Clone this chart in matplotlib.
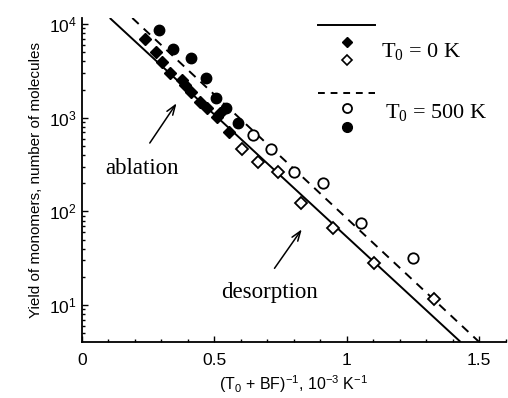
import math
import matplotlib.pyplot as plt
from matplotlib.ticker import FixedLocator, FuncFormatter, LogLocator, MultipleLocator

# data (x in 10^-3 K^-1, y = number of molecules)
abl_0K_x = [0.238, 0.279, 0.304, 0.334, 0.376, 0.388, 0.413, 0.444, 0.473, 0.510, 0.520, 0.557]
abl_0K_y = [6870, 4990, 3960, 3020, 2520, 2230, 1890, 1480, 1260, 1025, 1120, 710]

des_0K_x = [0.605, 0.664, 0.739, 0.827, 0.947, 1.104, 1.330]
des_0K_y = [460, 339, 261, 122, 67, 28, 11.5]

abl_500K_x = [0.291, 0.344, 0.411, 0.467, 0.505, 0.545, 0.589]
abl_500K_y = [8630, 5410, 4310, 2630, 1630, 1260, 885]

des_500K_x = [0.645, 0.714, 0.802, 0.909, 1.053, 1.250]
des_500K_y = [653, 460, 266, 202, 76, 32]

# fitted straight lines (end points)
fit_0K_x = [0.105, 1.43]
fit_0K_y = [11600, 4.04]
fit_500K_x = [0.19, 1.50]
fit_500K_y = [11600, 4.04]

xticks = [0, 0.5, 1, 1.5]
xticklabels = ["0", "0.5", "1", "1.5"]

sans = "Liberation Sans"
serif = "Liberation Serif"

fig = plt.figure(figsize=(5.08, 3.98), dpi=100)
ax = fig.add_axes([0.1614, 0.1407, 0.834, 0.8141])

ax.plot(fit_0K_x, fit_0K_y, color="black", lw=1.4, solid_capstyle="butt")
ax.plot(fit_500K_x, fit_500K_y, color="black", lw=1.4, ls=(0, (4.5, 3.5)))

ax.plot(abl_0K_x, abl_0K_y, ls="none", marker="D", ms=6.5, color="black")
ax.plot(des_0K_x, des_0K_y, ls="none", marker="D", ms=6.5, mfc="white", mec="black", mew=1.3)
ax.plot(abl_500K_x, abl_500K_y, ls="none", marker="o", ms=7.5, color="black")
ax.plot(des_500K_x, des_500K_y, ls="none", marker="o", ms=7.5, mfc="white", mec="black", mew=1.3)

ax.set_yscale("log")
ax.set_xlim(0, 1.6)
ax.set_ylim(4.04, 11600)

ax.xaxis.set_major_locator(FixedLocator(xticks))
ax.xaxis.set_major_formatter(FuncFormatter(lambda v, p: xticklabels[xticks.index(v)] if v in xticks else ""))
ax.xaxis.set_minor_locator(MultipleLocator(0.1))
ax.yaxis.set_major_locator(LogLocator(base=10, numticks=10))
ax.yaxis.set_minor_locator(LogLocator(base=10, subs=range(2, 10), numticks=20))
ax.yaxis.set_major_formatter(FuncFormatter(lambda v, p: r"$\mathregular{10^{%d}}$" % round(math.log10(v))))

ax.tick_params(which="both", direction="in", labelsize=12.5, width=1)
ax.tick_params(which="major", length=4)
ax.tick_params(which="minor", length=2)
ax.tick_params(axis="x", pad=8)
ax.tick_params(axis="y", pad=4)
for lab in ax.get_xticklabels() + ax.get_yticklabels():
    lab.set_family(sans)

for s in ["top", "right"]:
    ax.spines[s].set_visible(False)
for s in ["left", "bottom"]:
    ax.spines[s].set_linewidth(1.3)

ax.set_xlabel(r"(T$\mathregular{_0}$ + BF)$\mathregular{^{-1}}$, 10$\mathregular{^{-3}}$ K$\mathregular{^{-1}}$",
              family=sans, fontsize=11.5, labelpad=4)
ax.set_ylabel("Yield of monomers, number of molecules", family=sans, fontsize=11, labelpad=4)

# annotations
arrow = dict(arrowstyle="->,head_length=0.7,head_width=0.25", color="black", lw=1.1, shrinkA=0, shrinkB=0)
ax.annotate("", xy=(0.357, 1426), xytext=(0.256, 537), arrowprops=arrow)
ax.annotate("", xy=(0.830, 64.4), xytext=(0.727, 24.7), arrowprops=arrow)
ax.text(0.226, 290, "ablation", family=serif, fontsize=16.5, ha="center", va="center")
ax.text(0.708, 13.5, "desorption", family=serif, fontsize=16.5, ha="center", va="center")

# legend drawn by hand
tr = ax.transAxes
ax.plot([0.557, 0.692], [0.978, 0.978], color="black", lw=1.4, transform=tr, clip_on=False)
ax.plot([0.625], [0.925], marker="D", ms=5.5, color="black", transform=tr, clip_on=False)
ax.plot([0.625], [0.870], marker="D", ms=5.5, mfc="white", mec="black", mew=1.2, transform=tr, clip_on=False)
ax.text(0.705, 0.898, r"$\mathregular{T_0}$ = 0 K", family=serif, fontsize=16, va="center", transform=tr)
ax.plot([0.557, 0.692], [0.769, 0.769], color="black", lw=1.4, ls=(0, (3.5, 3)), transform=tr, clip_on=False)
ax.plot([0.625], [0.722], marker="o", ms=6.5, mfc="white", mec="black", mew=1.3, transform=tr, clip_on=False)
ax.plot([0.625], [0.665], marker="o", ms=7, color="black", transform=tr, clip_on=False)
ax.text(0.715, 0.707, r"$\mathregular{T_0}$ = 500 K", family=serif, fontsize=16, va="center", transform=tr)

fig.savefig("out.png", dpi=100)
